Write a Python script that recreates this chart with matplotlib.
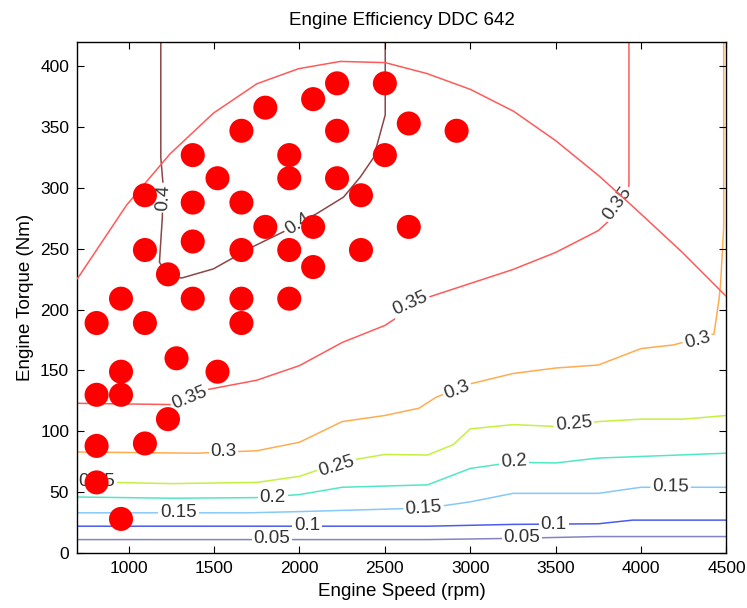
import matplotlib
matplotlib.use("Agg")
import matplotlib.pyplot as plt

plt.rcParams['font.family'] = ['Liberation Sans', 'DejaVu Sans']

# measured operating points (rpm, Nm)
speed = [2220, 2500, 2080, 1800, 1660, 2220, 2640, 2920,
         1375, 1940, 2500, 1520, 1940, 2220, 1095, 2360,
         1375, 1660, 1800, 2080, 2640, 1375, 1095, 1660,
         1940, 2360, 2080, 1230, 955, 1375, 1660, 1940,
         812, 1095, 1660, 1280, 955, 1520, 812, 955,
         1230, 812, 1095, 812, 955]
torque = [386, 386, 373, 366, 347, 347, 353, 347,
          327, 327, 327, 308, 308, 308, 294, 294,
          288, 288, 268, 268, 268, 256, 249, 249,
          249, 249, 235, 229, 209, 209, 209, 209,
          189, 189, 189, 160, 149, 149, 130, 130,
          110, 88, 90, 58, 28]

# efficiency contour lines
c005_x = [700, 2750, 3250, 3750, 4500]
c005_y = [11, 11, 12, 13.5, 13.5]
c010_x = [700, 2750, 3250, 3750, 3950, 4500]
c010_y = [22, 22, 23.5, 24, 27, 27]
c015_x = [700, 1700, 2000, 2500, 2750, 3000, 3250, 3750, 4000, 4500]
c015_y = [33, 33, 34, 36, 37, 42, 49, 49, 54, 54]
c020_x = [700, 1250, 1750, 2000, 2250, 2750, 3000, 3250, 3500, 3750, 4500]
c020_y = [46, 45, 45.5, 48, 54, 56, 69.5, 74.5, 74, 78, 82]
c025_x = [700, 1250, 1750, 2000, 2250, 2500, 2750, 2900, 3000, 3250, 3500, 3750, 4000, 4250, 4500]
c025_y = [58.5, 57, 58, 63, 75, 81, 80.5, 89, 102, 105.5, 104, 108, 110, 110, 113]
c030_x = [700, 1400, 1750, 2000, 2250, 2500, 2700, 2800, 3000, 3250, 3500, 3750,
          4000, 4190, 4427, 4456, 4466, 4484, 4484]
c030_y = [83, 82, 84, 91, 108, 113, 119, 128, 139, 147.5, 152, 154.5,
          168, 171, 180, 208, 222, 268, 420]
c035a_x = [700, 1250, 1450, 1750, 2000, 2250, 2500, 2750, 3250, 3500, 3750, 3820, 3929, 3929]
c035a_y = [123, 122, 134, 142, 154, 173, 187, 210, 233, 247, 265, 274, 302, 420]
c035b_x = [700, 988, 1242, 1496, 1750, 1994, 2239, 2502, 2747, 3001, 3254, 3499, 3753, 3958, 4242, 4505]
c035b_y = [225.5, 286, 328, 361.5, 385.6, 398, 404, 403, 394, 381, 363, 339, 310, 284, 247, 210]
c040_x = [1188, 1188, 1200, 1197, 1180, 1230, 1311, 1496, 1731, 1906, 2102, 2258, 2356, 2434, 2502, 2502]
c040_y = [420, 325, 305, 276, 239, 228, 226, 233.5, 252, 264, 279, 292.5, 309, 325, 360, 420]

fig = plt.figure(figsize=(7.47, 6.08), dpi=100)
ax = fig.add_axes([0.1037, 0.0905, 0.8688, 0.8405])

lines = [
    (c005_x, c005_y, '#8484c4'),
    (c010_x, c010_y, '#4a5cf0'),
    (c015_x, c015_y, '#86c8fa'),
    (c020_x, c020_y, '#50e8c4'),
    (c025_x, c025_y, '#c4f040'),
    (c030_x, c030_y, '#ffac50'),
    (c035a_x, c035a_y, '#ff5a5a'),
    (c040_x, c040_y, '#8c4646'),
]
for xs, ys, col in lines:
    ax.plot(xs, ys, color=col, lw=1.1, zorder=1)
# upper 0.35 branch passes over its label
ax.plot(c035b_x, c035b_y, color='#ff5a5a', lw=1.1, zorder=3)

# inline contour labels
labels = [
    ('0.05', 1838, 11.5, 0), ('0.05', 3303, 12.5, 0),
    ('0.1', 2044, 22.5, 0), ('0.1', 3489, 23.7, 0),
    ('0.15', 1291, 33.5, 0), ('0.15', 2727, 37, 4), ('0.15', 4173, 54.5, -1),
    ('0.2', 1842, 46, 0), ('0.2', 3255, 75, 4),
    ('0.25', 810, 58.5, 0), ('0.25', 2219, 71, 17), ('0.25', 3606, 106, 5),
    ('0.3', 1555, 83, 0), ('0.3', 2923, 134, 21), ('0.3', 4330, 175, 15),
    ('0.35', 1359, 127, 22), ('0.35', 2649, 205, 24), ('0.35', 3861, 287, 54),
    ('0.4', 1203, 292, 87), ('0.4', 1990, 270, 33),
]
for txt, lx, ly, rot in labels:
    ax.text(lx, ly, txt, fontsize=13.5, color='#333333', rotation=rot,
            ha='center', va='center', rotation_mode='anchor', zorder=2,
            bbox=dict(boxstyle='square,pad=0.1', fc='white', ec='none'))

ax.scatter(speed, torque, s=300, color='#ff0000', edgecolors='none', zorder=4)

ax.set_xlim(700, 4500)
ax.set_ylim(0, 420)
ax.set_xticks(range(1000, 4501, 500))
ax.set_yticks(range(0, 401, 50))
ax.tick_params(direction='in', top=True, right=True, length=5, labelsize=12.5, pad=6)
for sp in ax.spines.values():
    sp.set_linewidth(1)
ax.set_xlabel('Engine Speed (rpm)', fontsize=13.5, labelpad=5)
ax.set_ylabel('Engine Torque (Nm)', fontsize=13.5, labelpad=4)
ax.set_title('Engine Efficiency DDC 642', fontsize=13.5, pad=12)

fig.savefig('out.png', dpi=100)
